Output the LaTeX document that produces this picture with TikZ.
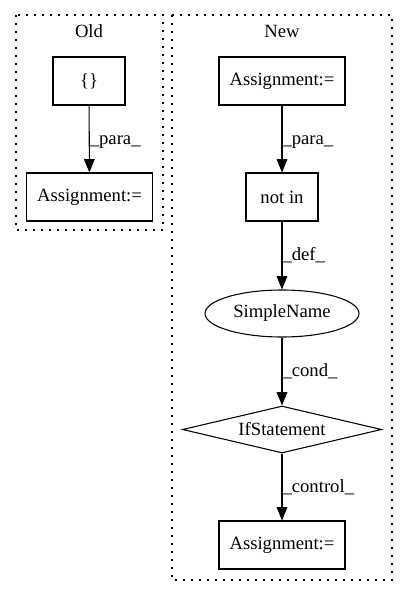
\documentclass[tikz,border=0pt]{standalone}
\usepackage{fontspec}
\setmainfont{Liberation Serif}
\usetikzlibrary{shapes.geometric,arrows.meta}
\begin{document}
\begin{tikzpicture}[x=0.75pt,y=-0.75pt,
  every node/.style={font=\fontsize{14}{16}\selectfont},
  box/.style={draw,line width=0.8pt,rectangle,minimum height=36pt,inner sep=0pt},
  ell/.style={draw,line width=0.8pt,ellipse,minimum width=115.5pt,minimum height=35.25pt,inner sep=0pt},
  dia/.style={draw,line width=0.8pt,diamond,aspect=4.23,minimum width=149.25pt,minimum height=35.25pt,inner sep=0pt},
  cluster/.style={draw,line width=0.8pt,dash pattern=on 1.2pt off 4.8pt},
  edge/.style={line width=0.8pt,-{Triangle[length=10pt,width=8pt]}},
  lab/.style={anchor=west,inner sep=0pt}]
\useasboundingbox (0,0) rectangle (408,596);
\draw[cluster] (16,15) rectangle (163,230);
\draw[cluster] (172,15) rectangle (392,580);
\node (oldlab) at (89,31) {Old};
\node (newlab) at (282,31) {New};
\node[box,minimum width=54pt] (brace) at (89,81) {\{\}};
\node[box,minimum width=94.5pt] (oldass) at (89.5,197) {Assignment:=};
\node[box,minimum width=94.5pt] (newass) at (282,81) {Assignment:=};
\node[box,minimum width=54pt] (notin) at (282,197) {not in};
\node[ell] (simple) at (282,313.5) {SimpleName};
\node[dia] (ifst) at (282,429.5) {IfStatement};
\node[box,minimum width=94.5pt] (botass) at (282,545) {Assignment:=};
\draw[edge] (brace) -- node[lab,pos=0.55] {\_para\_} (oldass);
\draw[edge] (newass) -- node[lab,pos=0.55] {\_para\_} (notin);
\draw[edge] (notin) -- node[lab,pos=0.5] {\_def\_} (simple);
\draw[edge] (simple) -- node[lab,pos=0.5] {\_cond\_} (ifst);
\draw[edge] (ifst) -- node[lab,pos=0.5] {\_control\_} (botass);
\end{tikzpicture}
\end{document}
